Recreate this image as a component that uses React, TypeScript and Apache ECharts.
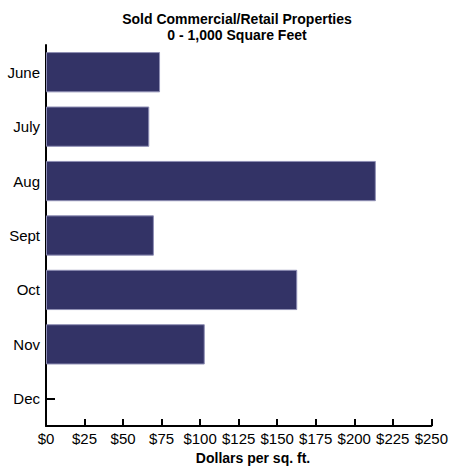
import React, { useEffect, useRef } from "react";
import * as echarts from "echarts";

const months = ["June", "July", "Aug", "Sept", "Oct", "Nov", "Dec"];
const dollarsPerSqFt: (number | null)[] = [74, 67, 214, 70, 163, 103, null];
const titleLines = ["Sold Commercial/Retail Properties", "0 - 1,000 Square Feet"];
const xAxisTitle = "Dollars per sq. ft.";

const condensed = "'Liberation Sans Narrow', 'Arial Narrow', 'Liberation Sans', Arial, sans-serif";
const regular = "'Liberation Sans', Arial, Helvetica, sans-serif";

export default function App() {
  const ref = useRef<HTMLDivElement>(null);
  useEffect(() => {
    if (!ref.current) return;
    const chart = echarts.init(ref.current, undefined, { renderer: "svg" });
    chart.setOption({
      animation: false,
      backgroundColor: "#ffffff",
      title: {
        text: titleLines.join("\n"),
        left: 232,
        textAlign: "center",
        top: 6,
        textStyle: {
          fontFamily: condensed,
          fontWeight: "bold",
          fontSize: 14,
          lineHeight: 16,
          color: "#000",
        },
      },
      grid: { left: 46, right: 19, top: 45, bottom: 43, containLabel: false },
      xAxis: {
        type: "value",
        min: 0,
        max: 250,
        interval: 25,
        axisLine: { show: true, lineStyle: { color: "#000", width: 2 } },
        axisTick: { show: true, inside: true, length: 7, lineStyle: { color: "#000", width: 2 } },
        splitLine: { show: false },
        axisLabel: {
          formatter: (v: number) => "$" + v,
          color: "#000",
          fontFamily: regular,
          fontSize: 15,
          margin: 5,
        },
      },
      yAxis: {
        type: "category",
        data: months,
        inverse: true,
        axisLine: { show: true, lineStyle: { color: "#000", width: 2 } },
        axisTick: { show: true, inside: true, alignWithLabel: true, length: 9, lineStyle: { color: "#000", width: 2 } },
        axisLabel: { color: "#000", fontFamily: regular, fontSize: 15, margin: 6 },
        splitLine: { show: false },
      },
      graphic: [
        {
          type: "text",
          x: 253,
          y: 458,
          style: {
            text: xAxisTitle,
            fontFamily: condensed,
            fontWeight: "bold",
            fontSize: 14,
            fill: "#000",
            align: "center",
            verticalAlign: "middle",
          },
        },
      ],
      series: [
        {
          type: "bar",
          data: dollarsPerSqFt,
          barCategoryGap: "26%",
          itemStyle: { color: "#333366", borderColor: "#8e8eb4", borderWidth: 1 },
        },
      ],
    });
    return () => chart.dispose();
  }, []);
  return <div ref={ref} style={{ width: 451, height: 469, position: "absolute", left: 0, top: 0 }} />;
}
